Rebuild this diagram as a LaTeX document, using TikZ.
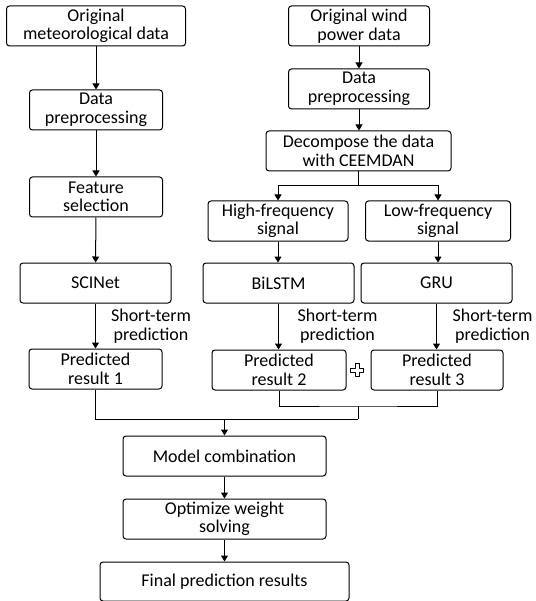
\documentclass[tikz,border=0pt]{standalone}
\usepackage{fontspec}
\setmainfont{Carlito}
\usetikzlibrary{arrows.meta}
\tikzset{
	stage/.style={draw, rounded corners=3pt, line width=1pt, align=center, inner sep=0pt, minimum height=40pt, font=\fontsize{18}{18.5}\selectfont},
	flow/.style={line width=1pt, -{Triangle[length=6pt, width=7pt]}},
	link/.style={line width=1pt},
	note/.style={align=center, inner sep=0pt, font=\fontsize{18}{18.5}\selectfont}
}

\begin{document}
\begin{tikzpicture}[x=10pt, y=-10pt]
	%%%%% START %%%%%
	\useasboundingbox (0, 0) rectangle (53.5, 60.1);
	
	% left branch
	\node[stage, minimum width=179pt] (metdata) at (9.6, 2.6) {Original\\meteorological data};
	\node[stage, minimum width=133pt] (metprep) at (9.6, 11) {Data\\preprocessing};
	\node[stage, minimum width=133pt] (featsel) at (9.6, 19.7) {Feature\\selection};
	\node[stage, minimum width=151pt] (scinet) at (9.55, 28.3) {SCINet};
	\node[stage, minimum width=133pt] (pred1) at (9.55, 36.9) {Predicted\\result 1};
	
	% right branch
	\node[stage, minimum width=141pt] (winddata) at (35.9, 2.6) {Original wind\\power data};
	\node[stage, minimum width=141pt] (windprep) at (35.9, 8.9) {Data\\preprocessing};
	\node[stage, minimum width=185pt] (ceemdan) at (35.85, 15.1) {Decompose the data\\with CEEMDAN};
	\node[stage, minimum width=140pt] (highsig) at (27.8, 22.1) {High-frequency\\signal};
	\node[stage, minimum width=145pt] (lowsig) at (43.8, 22.1) {Low-frequency\\signal};
	\node[stage, minimum width=151pt] (bilstm) at (27.85, 28.3) {BiLSTM};
	\node[stage, minimum width=151pt] (gru) at (43.65, 28.3) {GRU};
	\node[stage, minimum width=134pt] (pred2) at (27.9, 37) {Predicted\\result 2};
	\node[stage, minimum width=132pt] (pred3) at (43.7, 37) {Predicted\\result 3};
	
	% combination
	\node[stage, minimum width=203pt] (combine) at (22.45, 45.6) {Model combination};
	\node[stage, minimum width=203pt] (optimize) at (22.45, 51.9) {Optimize weight\\solving};
	\node[stage, minimum width=249pt, minimum height=39pt] (final) at (22.45, 58.15) {Final prediction results};
	
	\node[note] (note1) at (15.1, 32.6) {Short-term\\prediction};
	\node[note] (note2) at (33.75, 32.6) {Short-term\\prediction};
	\node[note] (note3) at (49.25, 32.6) {Short-term\\prediction};
	
	\coordinate (split) at (35.85, 18.6);
	\coordinate (join23) at (35.8, 40.6);
	\coordinate (joinall) at (35.8, 41.9);
	\coordinate (plus) at (35.7, 37);
	
	\draw[flow] (metdata) -- (metprep);
	\draw[flow] (metprep) -- (featsel);
	\draw[flow] (featsel) -- (scinet);
	\draw[flow] (scinet) -- (pred1);
	
	\draw[flow] (winddata) -- (windprep);
	\draw[flow] (windprep) -- (windprep |- ceemdan.north);
	\draw[link] (ceemdan) -- (split);
	\draw[flow] (split) -| (highsig.north);
	\draw[flow] (split) -| (lowsig.north);
	\draw[flow] (highsig) -- (highsig |- bilstm.north);
	\draw[flow] (lowsig) -- (lowsig |- gru.north);
	\draw[flow] (bilstm) -- (bilstm |- pred2.north);
	\draw[flow] (gru) -- (gru |- pred3.north);
	
	\draw[link] (pred2) |- (join23) -| (pred3);
	\draw[link] (join23) -- (joinall);
	\draw[link] (pred1) |- (joinall);
	\draw[flow] (combine |- joinall) -- (combine);
	\draw[flow] (combine) -- (optimize);
	\draw[flow] (optimize) -- (final);
	
	\draw[line width=0.7pt, line join=round] (plus) ++(-0.2, -0.65) -- ++(0.4, 0) -- ++(0, 0.45) -- ++(0.45, 0) -- ++(0, 0.4) -- ++(-0.45, 0) -- ++(0, 0.45) -- ++(-0.4, 0) -- ++(0, -0.45) -- ++(-0.45, 0) -- ++(0, -0.4) -- ++(0.45, 0) -- cycle;
	%%%%% END %%%%%
\end{tikzpicture}
\end{document}
